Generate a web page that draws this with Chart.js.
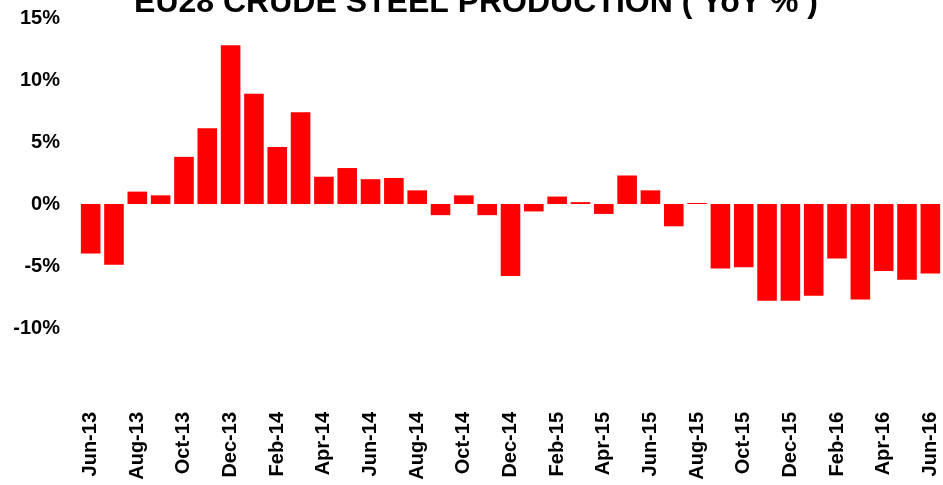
<!DOCTYPE html>
<html>
<head>
<meta charset="utf-8">
<script src="https://cdn.jsdelivr.net/npm/chart.js@4.4.1/dist/chart.umd.min.js"></script>
<style>
  html, body { margin: 0; padding: 0; background: #fff; overflow: hidden; }
  #wrap { position: absolute; left: 0; top: -14px; width: 943px; height: 499px; }
</style>
</head>
<body>
<div id="wrap"><canvas id="chart"></canvas></div>
<script>
const months = [
  "Jun-13", "Jul-13", "Aug-13", "Sep-13", "Oct-13", "Nov-13", "Dec-13",
  "Jan-14", "Feb-14", "Mar-14", "Apr-14", "May-14", "Jun-14", "Jul-14",
  "Aug-14", "Sep-14", "Oct-14", "Nov-14", "Dec-14", "Jan-15", "Feb-15",
  "Mar-15", "Apr-15", "May-15", "Jun-15", "Jul-15", "Aug-15", "Sep-15",
  "Oct-15", "Nov-15", "Dec-15", "Jan-16", "Feb-16", "Mar-16", "Apr-16",
  "May-16", "Jun-16"
];

// YoY % change
const yoyChange = [
  -4.0, -4.9, 1.0, 0.7, 3.8, 6.1, 12.8,
  8.9, 4.6, 7.4, 2.2, 2.9, 2.0, 2.1,
  1.1, -0.9, 0.7, -0.9, -5.8, -0.6, 0.6,
  0.15, -0.8, 2.3, 1.1, -1.8, 0.08, -5.2,
  -5.1, -7.8, -7.8, -7.4, -4.4, -7.7, -5.4,
  -6.1, -5.6
];

const chartTitle = "EU28 CRUDE STEEL PRODUCTION ( YoY % )";

new Chart(document.getElementById("chart"), {
  type: "bar",
  data: {
    labels: months,
    datasets: [{
      data: yoyChange,
      backgroundColor: "#ff0000",
      borderWidth: 0,
      categoryPercentage: 1,
      barPercentage: 0.84
    }]
  },
  options: {
    responsive: true,
    maintainAspectRatio: false,
    animation: false,
    layout: { padding: { left: 10, right: 1, top: 0, bottom: 0 } },
    plugins: {
      legend: { display: false },
      tooltip: { enabled: false },
      title: {
        display: true,
        text: chartTitle,
        color: "#000",
        font: { family: "'Liberation Sans Narrow', 'Liberation Sans', Arial", size: 32, weight: "bold", lineHeight: 1 },
        padding: { top: 1, bottom: -1 }
      }
    },
    scales: {
      x: {
        grid: { display: false, drawTicks: false },
        border: { display: false },
        afterFit: (scale) => {
          scale.height = 95;
          scale.paddingLeft = 0;
          scale.paddingRight = 0;
        },
        ticks: {
          autoSkip: false,
          maxRotation: 90,
          minRotation: 90,
          padding: 22,
          color: "#000",
          font: { family: "'Liberation Sans', Arial", size: 20, weight: "bold" },
          callback: (value, index) => (index % 2 === 0 ? months[index] : "")
        }
      },
      y: {
        min: -15,
        max: 15,
        grid: { display: false, drawTicks: false },
        border: { display: false },
        afterFit: (scale) => { scale.width = 69; },
        ticks: {
          stepSize: 5,
          padding: 19,
          color: "#000",
          font: { family: "'Liberation Sans', Arial", size: 20, weight: "bold" },
          callback: (value) => (value === -15 ? "" : value + "%")
        }
      }
    }
  }
});
</script>
</body>
</html>
